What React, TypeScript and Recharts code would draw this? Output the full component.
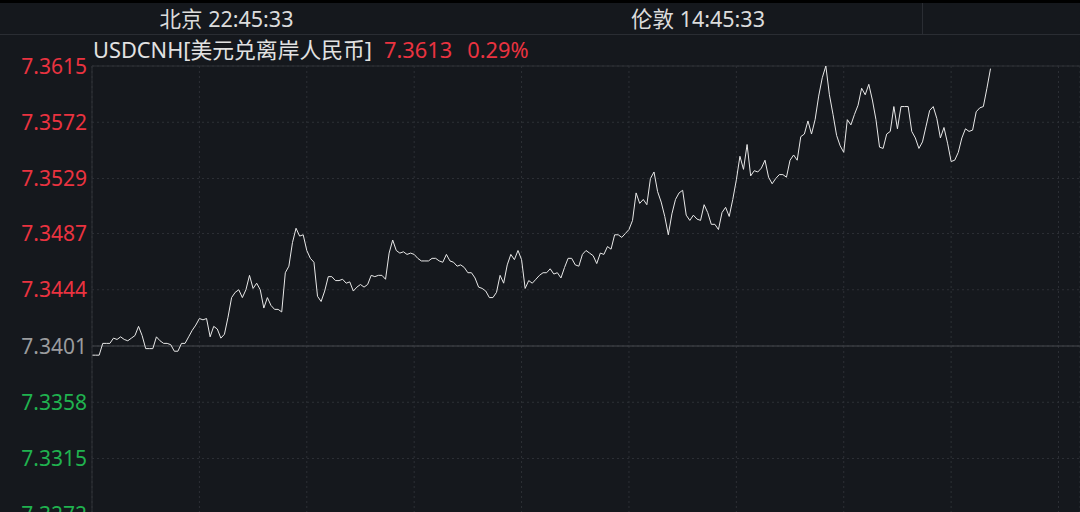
import { LineChart, Line, XAxis, YAxis, CartesianGrid, ReferenceLine } from "recharts";

const PREV_CLOSE = 7.3401;
const yTicks = [7.3615, 7.3572, 7.3529, 7.3487, 7.3444, 7.3401, 7.3358, 7.3315, 7.3272];
const yDomain = [7.3187, 7.3615];
const xTicks = [0, 30, 60, 90, 120, 150, 180, 210, 240, 270];
const xMax = 276;

const prices = [
  7.3394, 7.3394, 7.3394, 7.3403, 7.3403, 7.3403, 7.3407, 7.3406, 7.3408, 7.3406,
  7.3405, 7.3407, 7.3409, 7.3416, 7.3409, 7.3399, 7.3399, 7.3399, 7.3408, 7.3405,
  7.3403, 7.3403, 7.3402, 7.3397, 7.3397, 7.3403, 7.3403, 7.3408, 7.3413, 7.3417,
  7.3422, 7.3421, 7.3422, 7.3408, 7.3416, 7.3414, 7.3407, 7.341, 7.3423, 7.3438,
  7.3442, 7.3444, 7.3438, 7.3444, 7.3455, 7.3445, 7.3449, 7.3444, 7.343, 7.3438,
  7.3432, 7.3429, 7.3429, 7.3427, 7.3457, 7.3462, 7.348, 7.3491, 7.3485, 7.3486,
  7.3474, 7.3468, 7.3465, 7.3439, 7.3435, 7.3443, 7.3454, 7.3454, 7.3451, 7.3451,
  7.3452, 7.3449, 7.345, 7.3443, 7.3446, 7.3448, 7.3446, 7.3448, 7.3455, 7.3454,
  7.3455, 7.3455, 7.3452, 7.3472, 7.3482, 7.3474, 7.3472, 7.3473, 7.3471, 7.3472,
  7.3471, 7.3468, 7.3466, 7.3466, 7.3466, 7.3468, 7.3468, 7.3466, 7.3465, 7.3471,
  7.3466, 7.3465, 7.3462, 7.3463, 7.3461, 7.3457, 7.3457, 7.3453, 7.3446, 7.3445,
  7.3443, 7.3438, 7.3438, 7.3442, 7.3455, 7.3449, 7.3463, 7.3471, 7.3467, 7.3474,
  7.3467, 7.3445, 7.3451, 7.3449, 7.3452, 7.3455, 7.3457, 7.3457, 7.346, 7.3456,
  7.3457, 7.3453, 7.3461, 7.3468, 7.3468, 7.3463, 7.3462, 7.3471, 7.3474, 7.3472,
  7.347, 7.3464, 7.3472, 7.3471, 7.3477, 7.3475, 7.3486, 7.3486, 7.3484, 7.3487,
  7.349, 7.3497, 7.3518, 7.351, 7.3513, 7.3509, 7.3529, 7.3534, 7.3519, 7.3511,
  7.35, 7.3486, 7.3502, 7.3513, 7.3518, 7.352, 7.3501, 7.3497, 7.3501, 7.3498,
  7.3497, 7.3509, 7.3503, 7.3494, 7.3494, 7.349, 7.3503, 7.3507, 7.35, 7.3513,
  7.3528, 7.3546, 7.3536, 7.3555, 7.3531, 7.3535, 7.3534, 7.3537, 7.3543, 7.353,
  7.3525, 7.3529, 7.3532, 7.3532, 7.353, 7.3543, 7.3547, 7.3543, 7.3561, 7.3563,
  7.3573, 7.3563, 7.3574, 7.3592, 7.3606, 7.3615, 7.3593, 7.3578, 7.3562, 7.3554,
  7.3549, 7.3574, 7.357, 7.3578, 7.3585, 7.3598, 7.3593, 7.3601, 7.3589, 7.3574,
  7.3553, 7.3552, 7.3563, 7.3565, 7.3584, 7.3567, 7.3584, 7.3584, 7.3584, 7.3565,
  7.356, 7.3552, 7.3557, 7.3569, 7.3581, 7.3584, 7.3575, 7.356, 7.3568, 7.3556,
  7.3542, 7.3543, 7.3549, 7.356, 7.3567, 7.3565, 7.3566, 7.358, 7.3583, 7.3584,
  7.3598, 7.3613,
];

const data = prices.map((p, i) => ({ t: i, price: p }));

const FONT = "'Noto Sans', 'Noto Sans CJK SC', sans-serif";
const RED = "#ea3340";
const GREEN = "#20b24f";
const GREY = "#9b9c9e";
const BG = "#15181d";

function PriceTick(props: any) {
  const { y, payload } = props;
  const v = payload.value;
  const color = v > PREV_CLOSE + 1e-6 ? RED : v < PREV_CLOSE - 1e-6 ? GREEN : GREY;
  return (
    <text x={87} y={y} dy="0.36em" textAnchor="end" fill={color} fontSize={21} fontFamily={FONT}>
      {v.toFixed(4)}
    </text>
  );
}

export default function App() {
  const last = prices[prices.length - 1];
  const pct = ((last - PREV_CLOSE) / PREV_CLOSE) * 100;
  return (
    <div style={{ position: "absolute", top: 0, left: 0, width: 1080, height: 512, overflow: "hidden", background: BG, fontFamily: FONT }}>
      <div style={{ position: "absolute", top: 0, left: 0, width: 1080, height: 3, background: "#000" }} />
      <div style={{ position: "absolute", top: 34, left: 0, width: 1080, height: 1, background: "#2a2d33" }} />
      <div style={{ position: "absolute", top: 3, left: 922, width: 1, height: 31, background: "#2a2d33" }} />
      <div style={{ position: "absolute", top: 3, left: 0, width: 453, height: 31, lineHeight: "31px", textAlign: "center", color: "#dcdcdc", fontSize: 21.5 }}>
        北京 22:45:33
      </div>
      <div style={{ position: "absolute", top: 3, left: 463, width: 470, height: 31, lineHeight: "31px", textAlign: "center", color: "#dcdcdc", fontSize: 21.5 }}>
        伦敦 14:45:33
      </div>
      <div style={{ position: "absolute", top: 35, left: 93, height: 29, lineHeight: "29px", fontSize: 21.8, whiteSpace: "nowrap" }}>
        <span style={{ color: "#e2e2e2" }}>USDCNH[美元兑离岸人民币]</span>
        <span style={{ color: RED, marginLeft: 12 }}>{last.toFixed(4)}</span>
        <span style={{ color: RED, marginLeft: 15 }}>{pct.toFixed(2)}%</span>
      </div>
      <div style={{ position: "absolute", top: 0, left: 0 }}>
        <LineChart width={1080} height={626} data={data} margin={{ top: 66, right: 0, bottom: 0, left: 0 }}>
          <CartesianGrid stroke="#2d3036" strokeDasharray="2 3" />
          <XAxis dataKey="t" type="number" domain={[0, xMax]} ticks={xTicks} hide />
          <YAxis
            type="number"
            domain={yDomain}
            ticks={yTicks}
            width={92}
            interval={0}
            allowDataOverflow
            tickLine={false}
            axisLine={{ stroke: "#2e3137" }}
            tick={<PriceTick />}
          />
          <ReferenceLine y={7.3615} stroke="#2e3137" />
          <ReferenceLine y={PREV_CLOSE} stroke="#46494e" />
          <Line
            type="linear"
            dataKey="price"
            stroke="#e8e8e8"
            strokeWidth={1}
            dot={false}
            isAnimationActive={false}
          />
        </LineChart>
      </div>
    </div>
  );
}
